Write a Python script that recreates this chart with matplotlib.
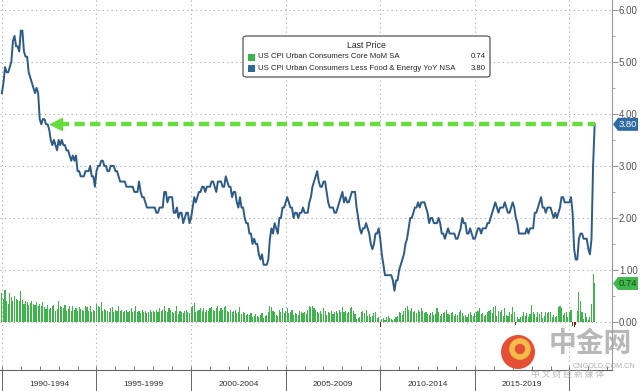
import numpy as np
import matplotlib.pyplot as plt
import matplotlib.transforms as mtransforms
from matplotlib.patches import Polygon, Circle, Rectangle, FancyBboxPatch
from matplotlib.ticker import MultipleLocator, FormatStrFormatter

# Core CPI YoY NSA, monthly from Jan 1990
yoy = [
    4.4, 4.6, 4.9, 4.8, 4.8, 4.9, 5.0, 5.4, 5.5, 5.3, 5.3, 5.2,   # 1990
    5.6, 5.6, 5.2, 5.1, 5.1, 4.8, 4.7, 4.6, 4.5, 4.4, 4.5, 4.4,   # 1991
    3.9, 3.8, 3.9, 3.9, 3.8, 3.8, 3.7, 3.5, 3.4, 3.5, 3.4, 3.3,   # 1992
    3.5, 3.4, 3.5, 3.4, 3.4, 3.3, 3.3, 3.2, 3.1, 3.2, 3.1, 3.2,   # 1993
    2.9, 2.9, 2.8, 2.8, 2.8, 2.9, 2.9, 2.9, 3.0, 2.8, 2.8, 2.6,   # 1994
    2.9, 3.0, 3.0, 3.1, 3.1, 3.0, 3.0, 2.9, 2.9, 3.0, 3.0, 3.0,   # 1995
    2.9, 2.9, 2.8, 2.7, 2.7, 2.7, 2.7, 2.6, 2.6, 2.6, 2.6, 2.6,   # 1996
    2.5, 2.5, 2.5, 2.7, 2.5, 2.4, 2.4, 2.3, 2.2, 2.2, 2.2, 2.2,   # 1997
    2.2, 2.2, 2.1, 2.1, 2.2, 2.2, 2.2, 2.5, 2.5, 2.3, 2.4, 2.4,   # 1998
    2.4, 2.1, 2.1, 2.2, 2.0, 2.1, 2.1, 1.9, 2.0, 2.1, 2.1, 1.9,   # 1999
    2.0, 2.2, 2.4, 2.3, 2.4, 2.5, 2.5, 2.6, 2.6, 2.5, 2.6, 2.6,   # 2000
    2.6, 2.7, 2.7, 2.6, 2.5, 2.7, 2.7, 2.7, 2.6, 2.6, 2.8, 2.7,   # 2001
    2.6, 2.6, 2.4, 2.5, 2.5, 2.3, 2.2, 2.4, 2.2, 2.2, 2.0, 1.9,   # 2002
    1.9, 1.7, 1.7, 1.5, 1.6, 1.5, 1.5, 1.3, 1.2, 1.3, 1.1, 1.1,   # 2003
    1.1, 1.2, 1.6, 1.8, 1.7, 1.9, 1.8, 1.7, 2.0, 2.0, 2.2, 2.2,   # 2004
    2.3, 2.4, 2.3, 2.2, 2.2, 2.0, 2.1, 2.1, 2.0, 2.1, 2.1, 2.2,   # 2005
    2.1, 2.1, 2.1, 2.3, 2.4, 2.6, 2.7, 2.8, 2.9, 2.7, 2.6, 2.6,   # 2006
    2.7, 2.7, 2.5, 2.3, 2.2, 2.2, 2.2, 2.1, 2.1, 2.2, 2.3, 2.4,   # 2007
    2.5, 2.3, 2.4, 2.3, 2.3, 2.4, 2.5, 2.5, 2.5, 2.2, 2.0, 1.8,   # 2008
    1.7, 1.8, 1.8, 1.9, 1.8, 1.7, 1.5, 1.4, 1.5, 1.7, 1.7, 1.8,   # 2009
    1.6, 1.3, 1.1, 0.9, 0.9, 0.9, 0.9, 0.9, 0.8, 0.6, 0.8, 0.8,   # 2010
    1.0, 1.1, 1.2, 1.3, 1.5, 1.6, 1.8, 2.0, 2.0, 2.1, 2.2, 2.2,   # 2011
    2.3, 2.2, 2.3, 2.3, 2.3, 2.2, 2.1, 1.9, 2.0, 2.0, 1.9, 1.9,   # 2012
    1.9, 2.0, 1.9, 1.7, 1.7, 1.6, 1.7, 1.8, 1.7, 1.7, 1.7, 1.7,   # 2013
    1.6, 1.6, 1.7, 1.8, 2.0, 1.9, 1.9, 1.7, 1.7, 1.8, 1.7, 1.6,   # 2014
    1.6, 1.7, 1.8, 1.8, 1.7, 1.8, 1.8, 1.8, 1.9, 1.9, 2.0, 2.1,   # 2015
    2.2, 2.3, 2.2, 2.1, 2.2, 2.2, 2.2, 2.3, 2.2, 2.1, 2.1, 2.2,   # 2016
    2.3, 2.2, 2.0, 1.9, 1.7, 1.7, 1.7, 1.7, 1.7, 1.8, 1.7, 1.8,   # 2017
    1.8, 1.8, 2.1, 2.1, 2.2, 2.3, 2.4, 2.2, 2.2, 2.1, 2.2, 2.2,   # 2018
    2.2, 2.1, 2.0, 2.1, 2.0, 2.1, 2.2, 2.4, 2.4, 2.3, 2.3, 2.3,   # 2019
    2.3, 2.4, 2.1, 1.4, 1.2, 1.2, 1.6, 1.7, 1.7, 1.6, 1.6, 1.6,   # 2020
    1.4, 1.3, 1.6, 3.0, 3.8,                                      # 2021
]

# Core CPI MoM SA, monthly from Jan 1990
mom = [
    .55, .45, .62, .40, .35, .55, .48, .40, .50, .45, .42, .40,
    .60, .42, .35, .40, .38, .32, .36, .40, .35, .32, .38, .30,
    .35, .30, .38, .28, .25, .32, .25, .26, .30, .33, .22, .25,
    .40, .30, .28, .26, .32, .22, .25, .30, .22, .30, .24, .26,
    .22, .28, .25, .24, .22, .30, .28, .22, .30, .20, .24, .22,
    .35, .30, .28, .38, .22, .25, .24, .22, .20, .26, .28, .20,
    .24, .22, .30, .22, .24, .20, .22, .24, .20, .22, .26, .20,
    .22, .30, .20, .22, .18, .24, .20, .22, .18, .20, .24, .20,
    .22, .20, .24, .20, .26, .22, .24, .30, .22, .20, .26, .24,
    .20, .18, .22, .30, .16, .22, .20, .18, .22, .24, .20, .18,
    .28, .30, .36, .20, .22, .24, .26, .22, .26, .20, .24, .22,
    .26, .28, .24, .22, .26, .30, .22, .26, .24, .28, .30, .22,
    .20, .24, .20, .22, .24, .18, .20, .28, .16, .20, .18, .14,
    .16, .14, .18, .10, .12, .16, .12, .10, .14, .18, .08, .12,
    .14, .20, .30, .28, .22, .20, .14, .12, .24, .20, .26, .18,
    .22, .26, .18, .20, .24, .14, .18, .16, .14, .22, .20, .18,
    .20, .16, .24, .30, .28, .30, .26, .24, .20, .18, .22, .16,
    .26, .22, .14, .20, .18, .22, .16, .20, .22, .18, .24, .20,
    .28, .20, .22, .18, .20, .26, .28, .22, .16, .06, .08, .10,
    .20, .22, .18, .24, .12, .16, .10, .12, .18, .20, .08, .10,
    -.10, .06, .08, .04, .10, .12, .08, .06, .04, .06, .10, .12,
    .20, .18, .14, .22, .26, .30, .24, .22, .26, .20, .22, .18,
    .24, .20, .26, .22, .18, .20, .16, .14, .18, .20, .14, .16,
    .26, .20, .12, .16, .18, .20, .24, .16, .14, .18, .20, .12,
    .16, .14, .20, .24, .18, .12, .14, .10, .16, .20, .14, .12,
    .18, .20, .22, .26, .16, .18, .12, .14, .20, .22, .24, .18,
    .28, .30, .12, .22, .20, .24, .12, .26, .14, .12, .20, .16,
    .28, .20, -.06, .10, .06, .10, .12, .20, .12, .18, .10, .16,
    .32, .20, .16, .10, .20, .16, .20, .08, .12, .20, .18, .20,
    .20, .10, .14, .10, .12, .28, .30, .26, .14, .18, .20, .10,
    .20, .24, -.08, -.10, -.06, .22, .58, .40, .20, .06, .18, .10,
    .04, .10, .34, .92, .74,
]

start_year = 1990
period_starts = [1990, 1995, 2000, 2005, 2010, 2015, 2020]
period_labels = ["1990-1994", "1995-1999", "2000-2004", "2005-2009", "2010-2014", "2015-2019", ""]
legend_title = "Last Price"
legend_names = ["US CPI Urban Consumers Core MoM SA",
                "US CPI Urban Consumers Less Food & Energy YoY NSA"]

BLUE = "#2c5b88"
GREEN = "#3db54a"
ARROW_GREEN = "#66dd3c"
NEG = "#7a2a12"

W, H = 640, 391
fig = plt.figure(figsize=(W / 100, H / 100), dpi=100)
ax = fig.add_axes([0, 1 - 370 / H, 612 / W, 370 / H])

t = start_year + np.arange(len(yoy)) / 12
tm = start_year + np.arange(len(mom)) / 12
mom_arr = np.array(mom)

# bars (MoM)
cols = [GREEN if v >= 0 else NEG for v in mom_arr]
ax.bar(tm, mom_arr, width=0.7 / 12, color=cols, linewidth=0, zorder=2)

# line (YoY)
ax.plot(t, yoy, color=BLUE, lw=1.4, zorder=3, solid_joinstyle="round")

ax.set_xlim(1989.9, 2022.25)
ax.set_ylim(-0.923, 6.19)

# grid
for y in range(0, 7):
    ax.axhline(y, color="#a8a8a8", lw=0.8, dashes=(1, 3), zorder=1)
for p in period_starts:
    ax.axvline(p, color="#a8a8a8", lw=0.8, dashes=(1, 3), zorder=1)

# right axis
ax.yaxis.tick_right()
ax.yaxis.set_major_locator(MultipleLocator(1))
ax.yaxis.set_minor_locator(MultipleLocator(0.5))
ax.yaxis.set_major_formatter(FormatStrFormatter("%.2f"))
ax.set_yticks(range(0, 7))
ax.tick_params(axis="y", which="major", direction="out", length=4, width=0.8,
               color="#999999", labelsize=7, labelcolor="#555555", pad=1)
ax.tick_params(axis="y", which="minor", direction="out", length=2, width=0.6, color="#999999")
for lab in ax.get_yticklabels():
    lab.set_family("Liberation Sans")

# bottom axis: yearly ticks pointing up, no labels
ax.set_xticks(np.arange(1990, 2023))
ax.tick_params(axis="x", which="major", direction="in", length=3, width=0.7,
               color="#777777", labelbottom=False)
for s in ["left", "top"]:
    ax.spines[s].set_visible(False)
ax.spines["right"].set_color("#9a9a9a")
ax.spines["bottom"].set_color("#666666")
ax.spines["bottom"].set_linewidth(0.8)

# period labels and separators below the axis
trans = mtransforms.blended_transform_factory(ax.transData, ax.transAxes)
for p, lab in zip(period_starts, period_labels):
    ax.plot([p, p], [0, -0.06], transform=trans, color="#666666", lw=0.7, clip_on=False)
    if lab:
        ax.text(p + 2.5, -0.038, lab, transform=trans, ha="center", va="center",
                fontsize=6, color="#333333", family="Liberation Sans")

# green dashed arrow at last YoY value back to where the series was last that high
last_yoy = yoy[-1]
last_mom = mom[-1]
idx = max(i for i, v in enumerate(yoy[:-1]) if v >= last_yoy)
tip = t[idx] + 0.25
ax.plot([tip + 0.35, t[-1]], [last_yoy, last_yoy], color=ARROW_GREEN, lw=3.2,
        dashes=(2.3, 1.2), zorder=4, solid_capstyle="butt")
ax.plot([tip + 0.2], [last_yoy], marker="<", ms=8, color=ARROW_GREEN, mec=ARROW_GREEN, zorder=4)

# value tags on right axis
fig.canvas.draw()
idt = mtransforms.IdentityTransform()


def tag(val, fc, tc):
    yd = ax.transData.transform((2000, val))[1]
    x0, x1 = 613, 638
    h = 6.5
    poly = Polygon([[x0, yd], [x0 + 5, yd + h], [x1, yd + h], [x1, yd - h], [x0 + 5, yd - h]],
                   closed=True, fc=fc, ec="none", transform=idt)
    fig.add_artist(poly)
    fig.text((x0 + 6) / W, yd / H, "%.2f" % val, ha="left", va="center",
             fontsize=6.8, color=tc, family="Liberation Sans")


tag(last_yoy, "#2e6aa3", "white")
tag(last_mom, "#42b84c", "#104d10")

# legend box
def fx(x):
    return x / W


def fy(y):
    return 1 - y / H


box = FancyBboxPatch((fx(243), fy(77)), fx(490) - fx(243), fy(36) - fy(77),
                     boxstyle="round,pad=0,rounding_size=0.006", transform=fig.transFigure,
                     fc="white", ec="#555555", lw=0.9, zorder=10)
fig.add_artist(box)
fig.text(fx(366), fy(46), legend_title, ha="center", va="center", fontsize=6.2,
         color="#222222", family="Liberation Sans", zorder=11)
vals = [last_mom, last_yoy]
for k, (name, c, v) in enumerate(zip(legend_names, [GREEN, "#2c6a9a"], vals)):
    yy = 57 + k * 11
    fig.add_artist(Rectangle((fx(248), fy(yy + 3.5)), fx(7), 7 / H, transform=fig.transFigure,
                             fc=c, ec="none", zorder=11))
    fig.text(fx(258), fy(yy), name, ha="left", va="center", fontsize=5.6,
             color="#222222", family="Liberation Sans", zorder=11)
    fig.text(fx(486), fy(yy), "%.2f" % v, ha="right", va="center", fontsize=5.6,
             color="#222222", family="Liberation Sans", zorder=11)

# watermark
fig.add_artist(Circle((518, H - 352), 17, fc="#e4452a", ec="none", transform=idt, alpha=0.95))
fig.add_artist(Circle((520, H - 349), 8, fc="none", ec="#f6c24a", lw=4, transform=idt, alpha=0.95))
fig.text(fx(590), fy(344), "中金网", ha="center", va="center", fontsize=20, weight="bold",
         color="#a0a0a0", alpha=0.75, family=["Noto Sans CJK SC", "DejaVu Sans"])
fig.text(fx(604), fy(366), "CNGOLD.COM.CN", ha="center", va="center", fontsize=5.2,
         color="#a0a0a0", alpha=0.85, family="Liberation Sans")
fig.text(fx(568), fy(374), "中 文 财 经 新 媒 体", ha="center", va="center", fontsize=6.3,
         color="#a8a8a8", alpha=0.8, family=["Noto Sans CJK SC", "DejaVu Sans"])

fig.savefig("out.png", dpi=100)
